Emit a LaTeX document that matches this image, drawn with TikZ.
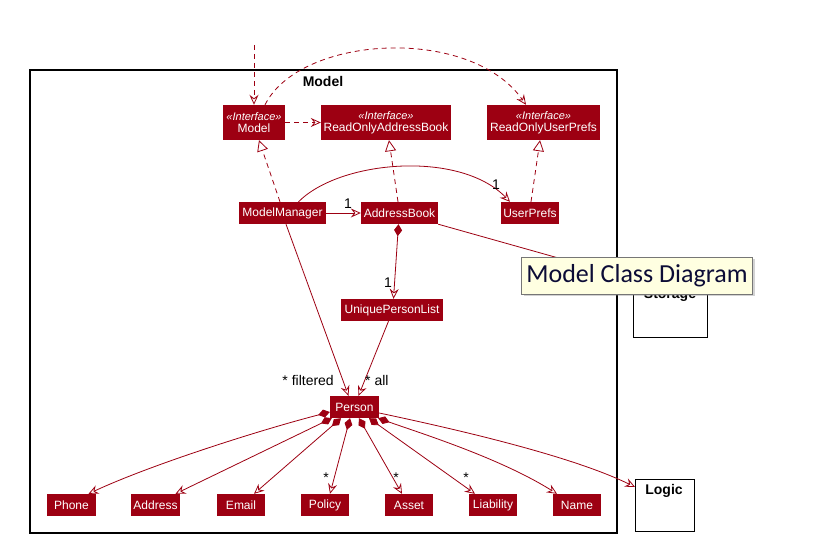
\documentclass[tikz,border=0pt]{standalone}
\usepackage{fontspec}
\setmainfont{Liberation Sans}
\newfontfamily\tipfont{Carlito}
\usetikzlibrary{arrows.meta,calc,shadows}
\definecolor{mred}{HTML}{9D0012}
\definecolor{tipbg}{HTML}{FFFFE1}
\definecolor{tipfg}{HTML}{0C0C36}
\definecolor{tipbd}{HTML}{767676}
\begin{document}
\begin{tikzpicture}[x=1pt,y=-1pt,
  cls/.style={draw=none, fill=mred, text=white, font=\fontsize{12}{12}\selectfont,
    inner sep=0pt, minimum height=22pt, align=center},
  iface/.style={cls, minimum height=35pt},
  attr/.style={cls, minimum width=48.5pt},
  pkgbox/.style={draw=black, line width=1.3pt, fill=white},
  pkglbl/.style={font=\bfseries\fontsize{14}{14}\selectfont, inner sep=0pt},
  conn/.style={draw=mred, line width=0.8pt},
  vee/.style={-{Stealth[open, length=10pt, width=9pt, inset=3.5pt]}},
  real/.style={-{Triangle[open, length=11pt, width=11pt]}},
  comp/.style={{Diamond[length=12pt, width=8pt]}-{Stealth[open, length=10pt, width=9pt, inset=3.5pt]}},
  dsh/.style={dash pattern=on 5pt off 4pt},
  mult/.style={font=\fontsize{14}{14}\selectfont, inner sep=0pt},
  tipbox/.style={draw=tipbd, line width=0.8pt, fill=tipbg, text=tipfg,
    font=\tipfont\fontsize{26}{26}\selectfont, minimum width=231pt, minimum height=37pt,
    inner sep=0pt, drop shadow={shadow xshift=2.5pt, shadow yshift=-2.5pt, opacity=0.35}}
]
\useasboundingbox (0,0) rectangle (831,556);

% package frame
\draw[pkgbox] (30,70) rectangle (617,533);
\node[pkglbl] (modellbl) at (323,81) {Model};

% classes
\node[iface, minimum width=62pt] (model) at (254,122.5)
  {{\fontsize{11}{11}\selectfont\itshape «Interface»}\\Model};
\node[iface, minimum width=130pt] (roab) at (386,122.5)
  {{\fontsize{11}{11}\selectfont\itshape «Interface»}\\ReadOnlyAddressBook};
\node[iface, minimum width=113pt] (roup) at (543.5,122.5)
  {{\fontsize{11}{11}\selectfont\itshape «Interface»}\\ReadOnlyUserPrefs};
\node[cls, minimum width=87pt] (mm) at (282.5,213) {ModelManager};
\node[cls, minimum width=77pt] (ab) at (399.5,213) {AddressBook};
\node[cls, minimum width=58pt] (up) at (530,213) {UserPrefs};
\node[cls, minimum width=102pt] (upl) at (392,310) {UniquePersonList};
\node[cls, minimum width=49pt] (person) at (354.5,407) {Person};
\node[attr] (phone) at (71.5,505) {Phone};
\node[attr] (address) at (155.5,505) {Address};
\node[attr] (email) at (241,505) {Email};
\node[attr] (policy) at (325,505) {Policy};
\node[attr] (asset) at (409,505) {Asset};
\node[attr] (liability) at (493,505) {Liability};
\node[attr] (name) at (577,505) {Name};

% outside packages
\node[pkgbox, minimum width=74pt, minimum height=58pt, anchor=north west, inner sep=0pt] (storage) at (633,279) {};
\node[pkglbl] (storagelbl) at (670,295) {Storage};
\node[pkgbox, minimum width=59pt, minimum height=52pt, anchor=north west, inner sep=0pt] (logic) at (635,479) {};
\node[pkglbl] (logiclbl) at (664,491) {Logic};

% connectors
\coordinate (topin) at (254,45);
\draw[conn, dsh, vee] (topin) -- (model.north);
\draw[conn, dsh, vee] (model.east) -- (roab.west);
\draw[conn, dsh, vee] ([xshift=11pt]model.north) .. controls (300,35) and (470,25) .. ([xshift=-17.5pt]roup.north);

\draw[conn, dsh, real] ([xshift=-2.5pt]mm.north) -- ([xshift=5pt]model.south);
\draw[conn, dsh, real] ([xshift=-1.5pt]ab.north) -- ([xshift=3pt]roab.south);
\draw[conn, dsh, real] ([xshift=1pt]up.north) -- ([xshift=-3.5pt]roup.south);

\draw[conn, vee] (mm.east) -- (ab.west);
\node[mult] (m1) at (348,204) {1};
\draw[conn, vee] ([xshift=16pt]mm.north) .. controls (340,160) and (460,150) .. ([xshift=-20pt]up.north);
\node[mult] (m2) at (496,185) {1};
\draw[conn, comp] ([xshift=-1pt]ab.south) -- ([xshift=1.5pt]upl.north);
\node[mult] (m3) at (388,283) {1};
\draw[conn] (ab.south east) -- (storage.north west);

\draw[conn, vee] ([xshift=3.5pt]mm.south) -- ([xshift=-6pt]person.north);
\node[mult, anchor=east] (mfilt) at (334,380) {* filtered};
\draw[conn, vee] ([xshift=-3.5pt]upl.south) -- ([xshift=4pt]person.north);
\node[mult, anchor=west] (mall) at (365,380) {* all};

\draw[conn, comp] ([yshift=-5pt]person.west) .. controls (260,430) and (150,465) .. ([xshift=17pt]phone.north);
\draw[conn, comp] ([xshift=2pt]person.south west) -- ([xshift=20pt]address.north);
\draw[conn, comp] ([xshift=-13.5pt]person.south) -- ([xshift=13pt]email.north);
\draw[conn, comp] ([xshift=-4.5pt]person.south) -- ([xshift=5pt]policy.north);
\node[mult] (mpol) at (326,478) {*};
\draw[conn, comp] ([xshift=4.5pt]person.south) -- ([xshift=-7pt]asset.north);
\node[mult] (mast) at (396,478) {*};
\draw[conn, comp] ([xshift=14.5pt]person.south) -- ([xshift=-18pt]liability.north);
\node[mult] (mlia) at (466,478) {*};
\draw[conn, comp] ([xshift=-1pt]person.south east) .. controls (420,433) and (500,458) .. ([xshift=-20pt]name.north);
\draw[conn, vee] ([yshift=-6pt]person.east) .. controls (450,428) and (570,455) .. ([yshift=-8pt]logic.north west);

% tooltip overlay
\node[tipbox] (tooltip) at (637,275.5) {Model Class Diagram};
\end{tikzpicture}
\end{document}
